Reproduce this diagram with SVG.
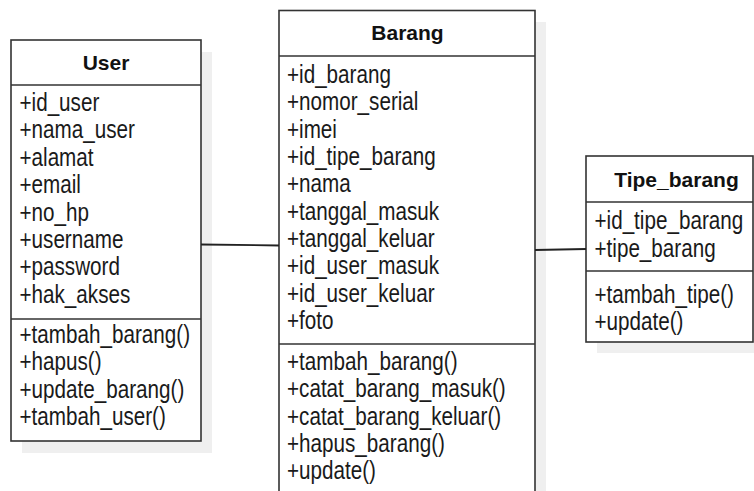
<svg xmlns="http://www.w3.org/2000/svg" width="754" height="491" viewBox="0 0 754 491">
<style>
.box{fill:#ffffff;stroke:#333333;stroke-width:1.6}
.sh{fill:#efefef;stroke:none}
.sep{stroke:#333333;stroke-width:1.6;fill:none}
.t{font-family:"Liberation Sans",Arial,sans-serif;font-size:21px;font-weight:bold;fill:#111111;text-anchor:middle}
.a{font-family:"Liberation Sans",Arial,sans-serif;font-size:26px;fill:#1a1a1a}
.c{stroke:#222222;stroke-width:1.8;fill:none}
</style>
<rect width="754" height="491" fill="#ffffff"/>
<g id="User">
<rect class="sh" x="22" y="52" width="190" height="401"/>
<rect class="box" x="11" y="40" width="190" height="401"/>
<line class="sep" x1="11" y1="85" x2="201" y2="85"/>
<line class="sep" x1="11" y1="319" x2="201" y2="319"/>
<text class="t" x="106" y="70">User</text>
<g transform="translate(19.5,0) scale(0.795,1)">
<text class="a" x="0" y="111">+id_user</text>
<text class="a" x="0" y="138.4">+nama_user</text>
<text class="a" x="0" y="165.8">+alamat</text>
<text class="a" x="0" y="193.2">+email</text>
<text class="a" x="0" y="220.6">+no_hp</text>
<text class="a" x="0" y="248">+username</text>
<text class="a" x="0" y="275.4">+password</text>
<text class="a" x="0" y="302.8">+hak_akses</text>
<text class="a" x="0" y="343">+tambah_barang()</text>
<text class="a" x="0" y="370.5">+hapus()</text>
<text class="a" x="0" y="398">+update_barang()</text>
<text class="a" x="0" y="425.5">+tambah_user()</text>
</g>
</g>
<g id="Barang">
<rect class="sh" x="290" y="22" width="256" height="480"/>
<rect class="box" x="279" y="10.5" width="256" height="490"/>
<line class="sep" x1="279" y1="56" x2="535" y2="56"/>
<line class="sep" x1="279" y1="344" x2="535" y2="344"/>
<text class="t" x="407.5" y="40">Barang</text>
<g transform="translate(287,0) scale(0.795,1)">
<text class="a" x="0" y="83">+id_barang</text>
<text class="a" x="0" y="110.3">+nomor_serial</text>
<text class="a" x="0" y="137.6">+imei</text>
<text class="a" x="0" y="165">+id_tipe_barang</text>
<text class="a" x="0" y="192.3">+nama</text>
<text class="a" x="0" y="219.6">+tanggal_masuk</text>
<text class="a" x="0" y="247">+tanggal_keluar</text>
<text class="a" x="0" y="274.3">+id_user_masuk</text>
<text class="a" x="0" y="301.6">+id_user_keluar</text>
<text class="a" x="0" y="329">+foto</text>
<text class="a" x="0" y="370">+tambah_barang()</text>
<text class="a" x="0" y="397.3">+catat_barang_masuk()</text>
<text class="a" x="0" y="424.6">+catat_barang_keluar()</text>
<text class="a" x="0" y="452">+hapus_barang()</text>
<text class="a" x="0" y="479.3">+update()</text>
</g>
</g>
<g id="Tipe_barang">
<rect class="sh" x="597" y="168" width="170" height="185"/>
<rect class="box" x="586" y="156" width="167" height="186"/>
<line class="sep" x1="586" y1="202" x2="753" y2="202"/>
<line class="sep" x1="586" y1="271" x2="753" y2="271"/>
<text class="t" x="676.5" y="187">Tipe_barang</text>
<g transform="translate(594.5,0) scale(0.795,1)">
<text class="a" x="0" y="229">+id_tipe_barang</text>
<text class="a" x="0" y="257">+tipe_barang</text>
<text class="a" x="0" y="303">+tambah_tipe()</text>
<text class="a" x="0" y="330">+update()</text>
</g>
</g>
<g id="connectors">
<line class="c" x1="201" y1="244.5" x2="279" y2="245.5"/>
<line class="c" x1="535" y1="250" x2="586" y2="249"/>
</g>
</svg>
